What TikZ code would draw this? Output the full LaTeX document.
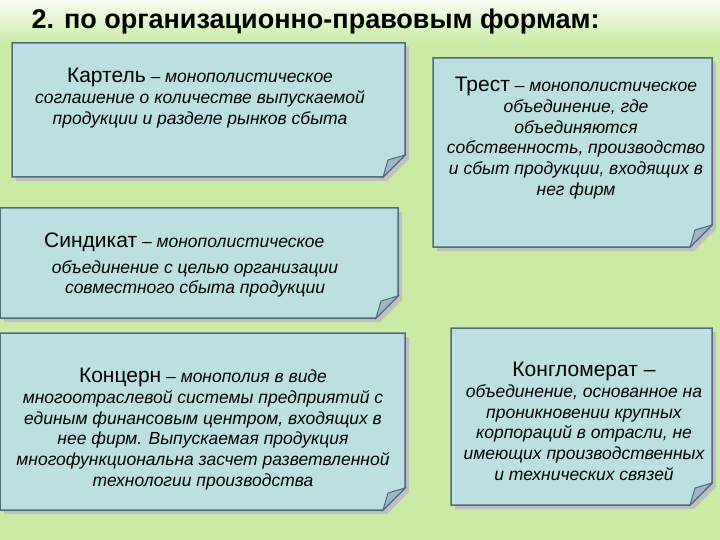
\documentclass[tikz,border=0pt]{standalone}
\usepackage{fontspec}
\setmainfont{Liberation Sans}
\newcommand{\hdr}{\fontsize{21}{22}\selectfont\upshape}
\begin{document}
\begin{tikzpicture}[x=1pt,y=-1pt,
  card/.style={fill=cardblue,draw=cardedge,line width=1.5pt},
  fold/.style={fill=foldblue,draw=cardedge,line width=1pt},
  body/.style={align=center,font=\fontsize{17.5}{20.7}\selectfont\itshape,text=black,inner sep=0pt}]
\definecolor{bg}{HTML}{C9EBA3}
\definecolor{cardblue}{HTML}{BCDFE2}
\definecolor{cardedge}{HTML}{4F6B77}
\definecolor{foldblue}{HTML}{9DB6C8}
\useasboundingbox (0,0) rectangle (720,540);
\fill[bg] (0,0) rectangle (720,540);
\shade[top color=white!85!bg,bottom color=bg] (0,0) rectangle (720,45);
\node[anchor=west,font=\fontsize{27}{30}\selectfont\bfseries] (title) at (28,22) {2. по организационно-правовым формам:};
\newcommand{\card}[5]{%
 \fill[black!25] (#1+4,#2+4) -- (#3+4,#2+4) -- (#3+4,#4-22+4) -- (#3-22+4,#4+4) -- (#1+4,#4+4) -- cycle;
 \draw[card] (#1,#2) -- (#3,#2) -- (#3,#4-22) -- (#3-22,#4) -- (#1,#4) -- cycle;
 \draw[fold] (#3,#4-22) -- (#3-22,#4) -- (#3-17,#4-17) -- cycle;
 \coordinate (#5) at ({(#1+#3)/2},{(#2+#4)/2});}
\card{12}{43}{405}{177}{k}
\card{433}{58}{712}{247}{t}
\card{0}{208}{398}{318}{s}
\card{0}{333}{405}{510}{c}
\card{451}{328}{712}{505}{g}
\node[body,anchor=north] (kt) at (200,68) {{\hdr Картель} – монополистическое\\соглашение о количестве выпускаемой\\продукции и разделе рынков сбыта};
\node[body,anchor=north] (tt) at (576,77) {{\hdr Трест} – монополистическое\\объединение, где\\объединяются\\собственность, производство\\и сбыт продукции, входящих в\\нег фирм};
\node[body,anchor=north west,align=left] (st) at (44,233) {{\hdr Синдикат} – монополистическое};
\node[body,anchor=north] (st2) at (195,260) {объединение с целью организации\\совместного сбыта продукции};
\node[body,anchor=north] (ct) at (203,368) {{\hdr Концерн} – монополия в виде\\многоотраслевой системы предприятий с\\единым финансовым центром, входящих в\\нее фирм. Выпускаемая продукция\\многофункциональна засчет разветвленной\\технологии производства};
\node[body,anchor=north] (gt) at (584,362) {{\hdr Конгломерат –}\\объединение, основанное на\\проникновении крупных\\корпораций в отрасли, не\\имеющих производственных\\и технических связей};
\end{tikzpicture}
\end{document}
